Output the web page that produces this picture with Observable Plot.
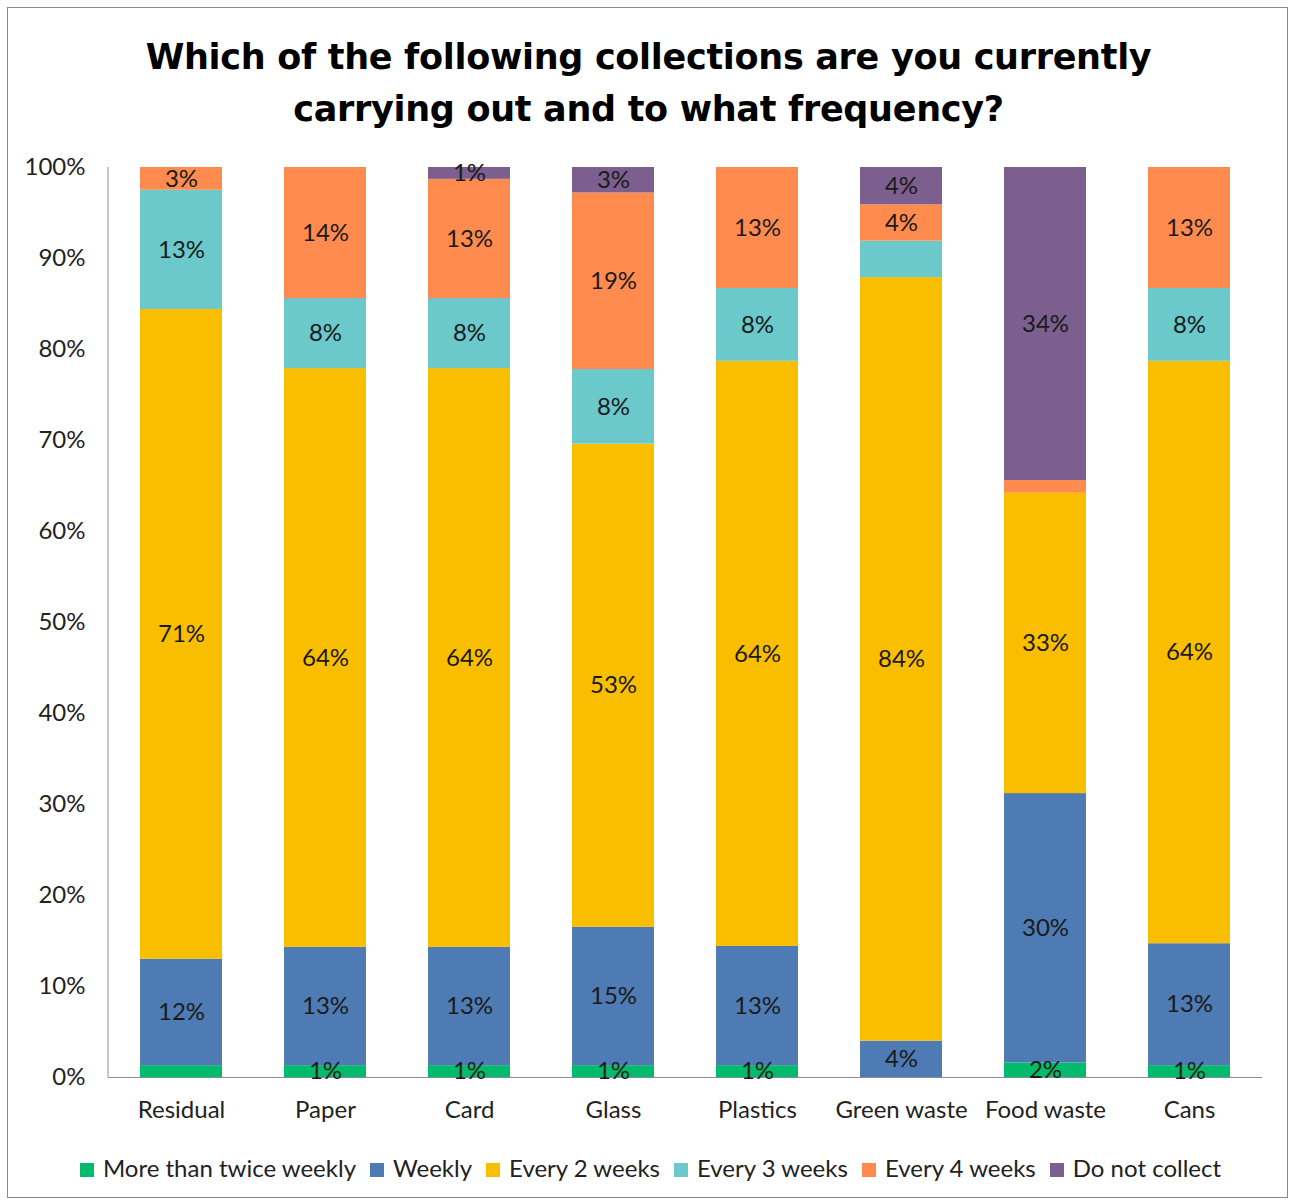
<!DOCTYPE html>
<html>
<head>
<meta charset="utf-8">
<script src="https://cdn.jsdelivr.net/npm/d3@7"></script>
<script src="https://cdn.jsdelivr.net/npm/@observablehq/plot@0.6"></script>
<style>
  html, body { margin: 0; padding: 0; background: #fff; }
  #wrap { position: relative; width: 1291px; height: 1203px; font-family: Lato, "Open Sans", sans-serif; }
  #border { position: absolute; left: 7px; top: 7px; width: 1281px; height: 1191px; border: 1px solid #8a8a8a; box-sizing: border-box; }
  #title { position: absolute; left: 7px; width: 1283px; top: 31px; text-align: center; font-family: "DejaVu Sans", sans-serif; font-weight: bold; font-size: 35px; line-height: 52px; color: #000; letter-spacing: -0.3px; }
  #chart { position: absolute; left: 0; top: 140px; }
  #legend { position: absolute; left: 0; width: 1301px; top: 1153px; text-align: center; font-size: 24px; color: #222; white-space: nowrap; }
  .item { display: inline-block; margin: 0 7px; }
  .sw { display: inline-block; width: 14px; height: 14px; margin-right: 9px; vertical-align: 0px; }
</style>
</head>
<body>
<div id="wrap">
  <div id="border"></div>
  <div id="title">Which of the following collections are you currently<br>carrying out and to what frequency?</div>
  <div id="chart"></div>
  <div id="legend"></div>
</div>
<script>
const categories = ["Residual", "Paper", "Card", "Glass", "Plastics", "Green waste", "Food waste", "Cans"];
const seriesNames = ["More than twice weekly", "Weekly", "Every 2 weeks", "Every 3 weeks", "Every 4 weeks", "Do not collect"];
const seriesColors = ["#00BB6C", "#4F7BB5", "#F9BE00", "#6BC9CC", "#FF8B4F", "#7C5F8E"];

const moreThanTwiceWeekly = [1.3, 1.3, 1.3, 1.3, 1.3, 0, 1.6, 1.3];
const weekly = [11.7, 13.0, 13.0, 15.2, 13.1, 4.0, 29.6, 13.4];
const every2Weeks = [71.4, 63.6, 63.6, 53.1, 64.3, 83.9, 33.0, 64.0];
const every3Weeks = [13.1, 7.7, 7.7, 8.2, 8.0, 4.0, 0, 8.0];
const every4Weeks = [2.5, 14.4, 13.1, 19.4, 13.3, 4.0, 1.4, 13.3];
const doNotCollect = [0, 0, 1.3, 2.8, 0, 4.1, 34.4, 0];

const yTicks = [0, 10, 20, 30, 40, 50, 60, 70, 80, 90, 100];

// labels not shown in the original
const hiddenLabels = [["Residual", "More than twice weekly"], ["Green waste", "Every 3 weeks"], ["Food waste", "Every 4 weeks"]];

const seriesValues = [moreThanTwiceWeekly, weekly, every2Weeks, every3Weeks, every4Weeks, doNotCollect];
const data = [];
seriesNames.forEach((s, si) => {
  categories.forEach((c, ci) => {
    data.push({ category: c, series: s, value: seriesValues[si][ci] });
  });
});
const isHidden = d => d.value === 0 || hiddenLabels.some(([c, s]) => c === d.category && s === d.series);

const yAxisLine = (index, scales, values, dims) => {
  const l = document.createElementNS("http://www.w3.org/2000/svg", "line");
  l.setAttribute("x1", dims.marginLeft);
  l.setAttribute("x2", dims.marginLeft);
  l.setAttribute("y1", scales.y(100));
  l.setAttribute("y2", scales.y(0));
  l.setAttribute("stroke", "#8c8c8c");
  l.setAttribute("stroke-width", 1);
  return l;
};

const chart = Plot.plot({
  width: 1291,
  height: 1000,
  marginLeft: 108,
  marginRight: 29,
  marginTop: 27,
  marginBottom: 63,
  style: { fontFamily: "Lato, 'Open Sans', sans-serif", fontSize: "24px", color: "#222", background: "transparent" },
  x: { domain: categories, paddingInner: 0.432, paddingOuter: 0.216, tickSize: 0, tickPadding: 23, label: null },
  y: { domain: [0, 100], ticks: yTicks, tickFormat: d => d + "%", tickSize: 0, tickPadding: 23, label: null },
  color: { domain: seriesNames, range: seriesColors },
  marks: [
    Plot.barY(data, { x: "category", y: "value", fill: "series" }),
    Plot.ruleY([0], { stroke: "#8c8c8c" }),
    yAxisLine,
    Plot.text(data, Plot.stackY({
      x: "category", y: "value", z: "series",
      text: d => isHidden(d) ? "" : Math.round(d.value) + "%",
      fill: "#1a1a1a", fontSize: 24
    }))
  ]
});
document.getElementById("chart").appendChild(chart);

const legend = document.getElementById("legend");
seriesNames.forEach((s, i) => {
  const item = document.createElement("span");
  item.className = "item";
  const sw = document.createElement("span");
  sw.className = "sw";
  sw.style.background = seriesColors[i];
  item.appendChild(sw);
  item.appendChild(document.createTextNode(s));
  legend.appendChild(item);
});
</script>
</body>
</html>
